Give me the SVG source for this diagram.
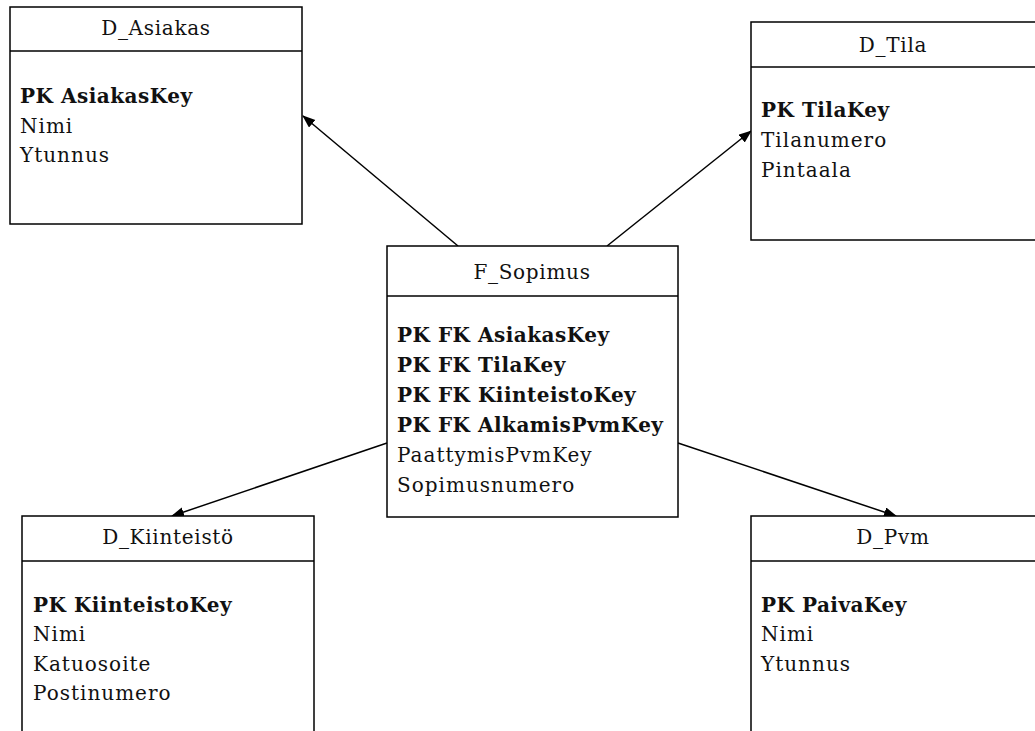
<svg xmlns="http://www.w3.org/2000/svg" width="1035" height="731" viewBox="0 0 1035 731">
<style>
.box{fill:#fff;stroke:#000;stroke-width:1.5}
.sep{stroke:#000;stroke-width:1.5}
text{font-family:"DejaVu Serif","Liberation Serif",serif;font-size:20px;fill:#111;letter-spacing:1px}
.t{text-anchor:middle;letter-spacing:0.7px}
.b{font-weight:bold;letter-spacing:0.5px}
.c{stroke:#000;stroke-width:1.5;fill:none;marker-end:url(#arr)}
</style>
<defs>
<marker id="arr" markerWidth="14" markerHeight="12" refX="12" refY="5" orient="auto" markerUnits="userSpaceOnUse">
<path d="M0,0 L13,5 L0,10 Z" fill="#000"/>
</marker>
</defs>
<rect width="1035" height="731" fill="#fff"/>
<g id="connectors">
<line class="c" x1="458" y1="246" x2="303" y2="116"/>
<line class="c" x1="607" y1="246" x2="751" y2="131"/>
<line class="c" x1="387" y1="443" x2="172" y2="516"/>
<line class="c" x1="678" y1="443" x2="896" y2="516"/>
</g>
<g id="D_Asiakas">
<rect class="box" x="10" y="7" width="292" height="217"/>
<line class="sep" x1="10" y1="51" x2="302" y2="51"/>
<text class="t" x="156" y="35">D_Asiakas</text>
<text class="b" x="20" y="103">PK AsiakasKey</text>
<text x="20" y="133">Nimi</text>
<text x="20" y="162">Ytunnus</text>
</g>
<g id="D_Tila">
<rect class="box" x="751" y="22" width="290" height="218"/>
<line class="sep" x1="751" y1="67" x2="1041" y2="67"/>
<text class="t" x="893" y="52">D_Tila</text>
<text class="b" x="761" y="117">PK TilaKey</text>
<text x="761" y="147">Tilanumero</text>
<text x="761" y="177">Pintaala</text>
</g>
<g id="F_Sopimus">
<rect class="box" x="387" y="246" width="291" height="271"/>
<line class="sep" x1="387" y1="296" x2="678" y2="296"/>
<text class="t" x="532" y="279">F_Sopimus</text>
<text class="b" x="397" y="342">PK FK AsiakasKey</text>
<text class="b" x="397" y="372">PK FK TilaKey</text>
<text class="b" x="397" y="402">PK FK KiinteistoKey</text>
<text class="b" x="397" y="432">PK FK AlkamisPvmKey</text>
<text x="397" y="462">PaattymisPvmKey</text>
<text x="397" y="492">Sopimusnumero</text>
</g>
<g id="D_Kiinteisto">
<rect class="box" x="22" y="516" width="292" height="230"/>
<line class="sep" x1="22" y1="561" x2="314" y2="561"/>
<text class="t" x="168" y="544">D_Kiinteistö</text>
<text class="b" x="33" y="612">PK KiinteistoKey</text>
<text x="33" y="641">Nimi</text>
<text x="33" y="671">Katuosoite</text>
<text x="33" y="700">Postinumero</text>
</g>
<g id="D_Pvm">
<rect class="box" x="751" y="516" width="290" height="230"/>
<line class="sep" x1="751" y1="561" x2="1041" y2="561"/>
<text class="t" x="893" y="544">D_Pvm</text>
<text class="b" x="761" y="612">PK PaivaKey</text>
<text x="761" y="641">Nimi</text>
<text x="761" y="671">Ytunnus</text>
</g>
</svg>
